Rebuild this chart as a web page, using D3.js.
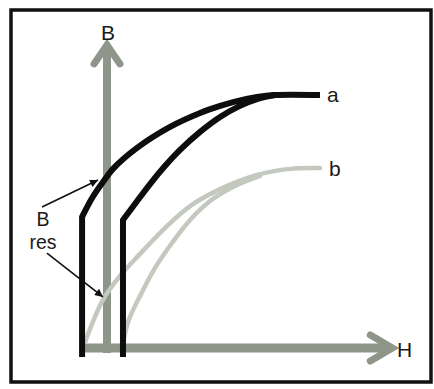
<!DOCTYPE html>
<html>
<head>
<meta charset="utf-8">
<script src="https://cdn.jsdelivr.net/npm/d3@7"></script>
<style>
  body { margin: 0; background: #fff; }
  svg { display: block; }
  text { font-family: "Liberation Sans", Arial, sans-serif; fill: #1a1a1a; }
</style>
</head>
<body>
<div id="chart"></div>
<script>
// B-H curves, values (H and B in relative units, saturation = 100)
const curveNames = ['a', 'b']

// curve a, rising branch (left one, starts at negative H)
const aOuterH = [-11.7, -11.7, -7.0, -1.9, 2.8, 14.1, 29.6, 43.7, 53.1, 59.2, 70.4, 78.9, 100]
const aOuterB = [-3.6, 51.8, 59.3, 65.6, 70.8, 79.1, 87.4, 92.9, 95.7, 97.2, 99.2, 100, 100]
// curve a, second branch (right one)
const aInnerH = [7.5, 7.5, 13.1, 20.2, 27.2, 34.3, 43.7, 53.1, 62.4, 70.4, 78.9]
const aInnerB = [-3.6, 50.6, 56.9, 64.8, 71.9, 78.3, 85.4, 91.3, 95.7, 98.4, 100]
// curve b (grey)
const bOuterH = [-10.3, -1.9, 6.1, 15.5, 27.2, 39.0, 53.1, 70.4, 85.9, 100]
const bOuterB = [2.4, 19.0, 28.5, 37.2, 47.4, 56.1, 62.8, 68.4, 70.8, 71.1]
const bInnerH = [7.5, 9.9, 15.5, 22.5, 30.5, 39.0, 48.4, 60.1, 71.8]
const bInnerB = [1.2, 10.3, 20.6, 31.6, 41.5, 50.6, 58.1, 64.0, 68.0]

const axisLabels = ['B', 'H']
const resLabel = ['B', 'res']

const width = 434, height = 389

const svg = d3.select('#chart').append('svg')
    .attr('width', width)
    .attr('height', height)

svg.append('rect').attr('width', width).attr('height', height).attr('fill', '#fff')

// frame
svg.append('rect')
    .attr('x', 11).attr('y', 10)
    .attr('width', 420).attr('height', 372)
    .attr('fill', 'none')
    .attr('stroke', '#111')
    .attr('stroke-width', 3.5)

const x = d3.scaleLinear().domain([0, 100]).range([107, 320])
const y = d3.scaleLinear().domain([0, 100]).range([348, 95])

const zip = (hs, bs) => hs.map((h, i) => [h, bs[i]])

const lineLin = d3.line().x(d => x(d[0])).y(d => y(d[1]))
const lineSmooth = d3.line().x(d => x(d[0])).y(d => y(d[1])).curve(d3.curveCatmullRom.alpha(0.5))

// axes (grey thick arrows)
const axisColor = '#8e968a'
const g = svg.append('g')

g.append('line')
    .attr('x1', x(0)).attr('x2', x(0))
    .attr('y1', y(-2)).attr('y2', y(119))
    .attr('stroke', axisColor).attr('stroke-width', 8)
g.append('path')
    .attr('d', `M${x(0) - 13},${y(119) + 17} L${x(0)},${y(119.8)} L${x(0) + 13},${y(119) + 17}`)
    .attr('fill', 'none').attr('stroke', axisColor).attr('stroke-width', 7)
    .attr('stroke-linecap', 'round').attr('stroke-linejoin', 'miter')

g.append('line')
    .attr('x1', x(-11.7)).attr('x2', x(133))
    .attr('y1', y(0)).attr('y2', y(0))
    .attr('stroke', axisColor).attr('stroke-width', 9)
g.append('path')
    .attr('d', `M${x(133) - 20},${y(0) - 13} L${x(134)},${y(0)} L${x(133) - 20},${y(0) + 13}`)
    .attr('fill', 'none').attr('stroke', axisColor).attr('stroke-width', 7)
    .attr('stroke-linecap', 'round').attr('stroke-linejoin', 'miter')

// curve b
;[zip(bOuterH, bOuterB), zip(bInnerH, bInnerB)].forEach(pts => {
    svg.append('path')
        .attr('d', lineSmooth(pts))
        .attr('fill', 'none')
        .attr('stroke', '#c3c9bf')
        .attr('stroke-width', 4.5)
        .attr('stroke-linecap', 'round')
})

// curve a: vertical start, then smooth rise
;[zip(aOuterH, aOuterB), zip(aInnerH, aInnerB)].forEach(pts => {
    svg.append('path')
        .attr('d', lineLin(pts.slice(0, 2)) + lineSmooth(pts.slice(1)).replace(/^M/, 'L'))
        .attr('fill', 'none')
        .attr('stroke', '#0d0d0d')
        .attr('stroke-width', 6)
        .attr('stroke-linejoin', 'round')
        .attr('stroke-linecap', 'butt')
})

// labels
svg.append('text').attr('x', x(0) + 1).attr('y', 40)
    .attr('text-anchor', 'middle').attr('font-size', 21).text(axisLabels[0])
svg.append('text').attr('x', 397).attr('y', 357)
    .attr('font-size', 21).text(axisLabels[1])
svg.append('text').attr('x', x(100) + 7).attr('y', y(100) + 7)
    .attr('font-size', 21).text(curveNames[0])
svg.append('text').attr('x', x(100) + 9).attr('y', y(71.1) + 8)
    .attr('font-size', 21).text(curveNames[1])

svg.append('text').attr('x', 43).attr('y', 226)
    .attr('text-anchor', 'middle').attr('font-size', 19.5).text(resLabel[0])
svg.append('text').attr('x', 43).attr('y', 249)
    .attr('text-anchor', 'middle').attr('font-size', 19.5).text(resLabel[1])

// pointer arrows to the remanence points
svg.append('defs').append('marker')
    .attr('id', 'tip')
    .attr('viewBox', '0 0 10 10')
    .attr('refX', 10).attr('refY', 5)
    .attr('markerWidth', 7).attr('markerHeight', 5)
    .attr('markerUnits', 'strokeWidth')
    .attr('orient', 'auto')
    .append('path').attr('d', 'M0,0 L10,5 L0,10 z').attr('fill', '#111')

const pointers = [
    [[-30.5, 55.7], [-4.2, 66.4]],
    [[-28.2, 37.5], [-1.9, 20.2]]
]
pointers.forEach(p => {
    svg.append('line')
        .attr('x1', x(p[0][0])).attr('y1', y(p[0][1]))
        .attr('x2', x(p[1][0])).attr('y2', y(p[1][1]))
        .attr('stroke', '#111').attr('stroke-width', 1.6)
        .attr('marker-end', 'url(#tip)')
})
</script>
</body>
</html>
